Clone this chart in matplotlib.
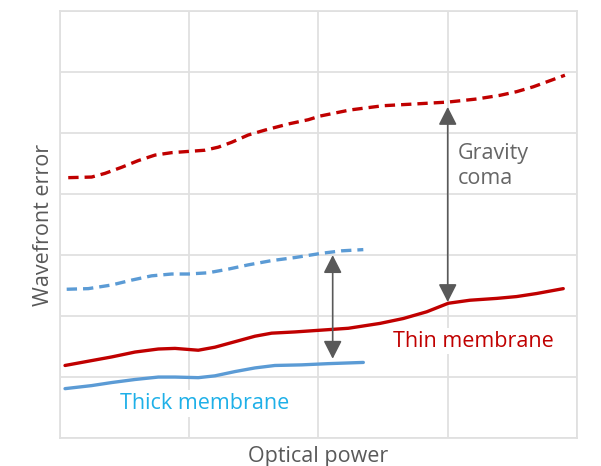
import matplotlib.pyplot as plt

plt.rcParams['font.family'] = ['Open Sans', 'DejaVu Sans']

# thin membrane, dashed (upper) and solid (lower)
thin_dash_x = [0.064, 0.245, 0.348, 0.477, 0.606, 0.735, 0.864, 0.993, 1.122, 1.225, 1.328, 1.457, 1.586,
               1.766, 1.921, 2.012, 2.244, 2.501, 2.760, 3.004, 3.224, 3.404, 3.533, 3.662, 3.791, 3.907]
thin_dash_y = [4.27, 4.28, 4.34, 4.44, 4.55, 4.64, 4.68, 4.70, 4.72, 4.77, 4.85, 4.97, 5.05,
               5.15, 5.22, 5.28, 5.38, 5.45, 5.48, 5.51, 5.56, 5.62, 5.68, 5.76, 5.86, 5.95]
thin_x = [0.039, 0.245, 0.400, 0.580, 0.761, 0.890, 1.070, 1.199, 1.354, 1.509, 1.638, 1.818, 2.025,
          2.231, 2.476, 2.656, 2.837, 3.004, 3.172, 3.379, 3.533, 3.688, 3.894]
thin_y = [1.19, 1.27, 1.33, 1.41, 1.46, 1.47, 1.44, 1.49, 1.58, 1.67, 1.72, 1.74, 1.77,
          1.80, 1.88, 1.96, 2.07, 2.21, 2.26, 2.29, 2.32, 2.37, 2.45]

# thick membrane
thick_dash_x = [0.052, 0.219, 0.400, 0.555, 0.709, 0.864, 0.993, 1.147, 1.302, 1.457, 1.638, 1.818,
                2.025, 2.179, 2.347]
thick_dash_y = [2.44, 2.45, 2.51, 2.59, 2.66, 2.69, 2.69, 2.71, 2.77, 2.84, 2.91, 2.96,
                3.03, 3.07, 3.09]
thick_x = [0.039, 0.245, 0.400, 0.580, 0.761, 0.890, 1.070, 1.199, 1.354, 1.509, 1.663, 1.870, 2.076, 2.347]
thick_y = [0.81, 0.86, 0.91, 0.96, 1.00, 1.00, 0.99, 1.02, 1.09, 1.15, 1.19, 1.20, 1.22, 1.24]

# arrows: (x, top, bottom)
gravity_arrow = (3.00, 5.43, 2.23)
thick_arrow = (2.11, 3.00, 1.30)

red = "#c00000"
blue = "#5b9bd5"
gray = "#595959"

fig = plt.figure(figsize=(6.01, 4.66), dpi=100)
ax = fig.add_axes([0.0998, 0.060, 0.8602, 0.916])

line_kw = dict(lw=2.4, solid_joinstyle="round", dash_joinstyle="round", solid_capstyle="round")
ax.plot(thin_dash_x, thin_dash_y, color=red, dashes=(3.1, 1.8), **line_kw)
ax.plot(thin_x, thin_y, color=red, **line_kw)
ax.plot(thick_dash_x, thick_dash_y, color=blue, dashes=(3.1, 1.8), **line_kw)
ax.plot(thick_x, thick_y, color=blue, **line_kw)

for xa, top, bot in (gravity_arrow, thick_arrow):
    ax.annotate("", xy=(xa, top), xytext=(xa, bot),
                arrowprops=dict(arrowstyle="<|-|>,head_length=0.55,head_width=0.28",
                                mutation_scale=20, color=gray, lw=1.2,
                                shrinkA=0, shrinkB=0))

ax.text(3.08, 4.46, "Gravity\ncoma", color="#666666", fontsize=15.5,
        ha="left", va="center", linespacing=1.25)
ax.text(3.20, 1.59, "Thin membrane", color=red, fontsize=15.5, ha="center", va="center",
        bbox=dict(facecolor="white", edgecolor="none", pad=2))
ax.text(1.12, 0.57, "Thick membrane", color="#1eb0e8", fontsize=15.5, ha="center", va="center",
        bbox=dict(facecolor="white", edgecolor="none", pad=2))

ax.set_xlim(0, 4)
ax.set_ylim(0, 7)
ax.set_xticks([0, 1, 2, 3, 4])
ax.set_yticks(range(8))
ax.tick_params(length=0, labelbottom=False, labelleft=False)
ax.grid(True, color="#e0e0e0", lw=1.3)
ax.set_axisbelow(True)
for s in ax.spines.values():
    s.set_color("#e0e0e0")
    s.set_linewidth(1.3)

ax.set_xlabel("Optical power", color=gray, fontsize=15.5, labelpad=6)
ax.set_ylabel("Wavefront error", color=gray, fontsize=15.5, labelpad=4)

fig.savefig("out.png", dpi=100)
